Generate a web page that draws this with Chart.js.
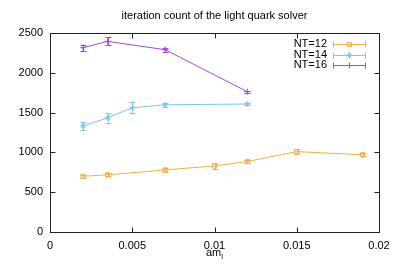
<!DOCTYPE html>
<html><head><meta charset="utf-8">
<script src="https://cdn.jsdelivr.net/npm/chart.js@4.4.0/dist/chart.umd.min.js"></script>
<style>html,body{margin:0;padding:0;background:#fff}#w{width:399px;height:279px}</style>
</head><body><div id="w"><canvas id="c" width="399" height="279"></canvas></div>
<script>
const chartTitle = "iteration count of the light quark solver";
const seriesNames = ["NT=12", "NT=14", "NT=16"];
const xTickLabels = ["0", "0.005", "0.01", "0.015", "0.02"];
const yTickLabels = ["0", "500", "1000", "1500", "2000", "2500"];

const am12 = [0.002, 0.0035, 0.007, 0.01, 0.012, 0.015, 0.019];
const nt12 = [700, 718, 780, 830, 885, 1010, 970];
const nt12Err = [22, 18, 20, 40, 20, 30, 20];

const am14 = [0.002, 0.0035, 0.005, 0.007, 0.012];
const nt14 = [1330, 1435, 1560, 1598, 1608];
const nt14Err = [50, 60, 70, 25, 15];

const am16 = [0.002, 0.0035, 0.007, 0.012];
const nt16 = [2315, 2395, 2290, 1762];
const nt16Err = [40, 50, 25, 10];

const colors = ["#EEB043", "#80C4EE", "#A848E0"];
const styles = ["rect", "star", "cross"];
const FONT = "Liberation Sans, Arial, sans-serif";

function pts(xs, ys, es) { return xs.map((x, i) => ({ x: x, y: ys[i], e: es[i] })); }

const datasets = [
  { label: seriesNames[0], data: pts(am12, nt12, nt12Err) },
  { label: seriesNames[1], data: pts(am14, nt14, nt14Err) },
  { label: seriesNames[2], data: pts(am16, nt16, nt16Err) }
].map((d, i) => Object.assign(d, {
  borderColor: colors[i], backgroundColor: "rgba(0,0,0,0)", borderWidth: 1,
  pointStyle: styles[i], pointRadius: 3, pointBorderWidth: 1,
  pointBorderColor: colors[i], pointBackgroundColor: "rgba(0,0,0,0)",
  showLine: true, tension: 0
}));

const gnuplotPlugin = {
  id: "gnu",
  afterDatasetsDraw(chart) {
    const ctx = chart.ctx, ca = chart.chartArea;
    const xs = chart.scales.x, ys = chart.scales.y;
    ctx.save();
    // error bars
    chart.data.datasets.forEach((ds, i) => {
      ctx.strokeStyle = colors[i]; ctx.lineWidth = 1;
      ds.data.forEach(p => {
        const px = Math.round(xs.getPixelForValue(p.x)) + 0.5;
        const y1 = ys.getPixelForValue(p.y - p.e), y2 = ys.getPixelForValue(p.y + p.e);
        ctx.beginPath();
        ctx.moveTo(px, y1); ctx.lineTo(px, y2);
        ctx.moveTo(px - 3, Math.round(y1) + 0.5); ctx.lineTo(px + 3, Math.round(y1) + 0.5);
        ctx.moveTo(px - 3, Math.round(y2) + 0.5); ctx.lineTo(px + 3, Math.round(y2) + 0.5);
        ctx.stroke();
      });
    });
    // frame
    ctx.strokeStyle = "#222"; ctx.lineWidth = 1;
    const L = Math.round(ca.left) + 0.5, R = Math.round(ca.right) + 0.5;
    const T = Math.round(ca.top) + 0.5, B = Math.round(ca.bottom) + 0.5;
    ctx.strokeRect(L, T, R - L, B - T);
    // inward ticks
    ctx.beginPath();
    xs.ticks.forEach(t => {
      const px = Math.round(xs.getPixelForValue(t.value)) + 0.5;
      ctx.moveTo(px, B); ctx.lineTo(px, B - 5);
      ctx.moveTo(px, T); ctx.lineTo(px, T + 5);
    });
    ys.ticks.forEach(t => {
      const py = Math.round(ys.getPixelForValue(t.value)) + 0.5;
      ctx.moveTo(L, py); ctx.lineTo(L + 5, py);
      ctx.moveTo(R, py); ctx.lineTo(R - 5, py);
    });
    ctx.stroke();
    // title
    ctx.fillStyle = "#000";
    ctx.font = "11px " + FONT;
    ctx.textAlign = "center"; ctx.textBaseline = "middle";
    ctx.fillText(chartTitle, (ca.left + ca.right) / 2, 16);
    // x axis title am_l
    const cx = (ca.left + ca.right) / 2;
    ctx.font = "11px " + FONT;
    const w1 = ctx.measureText("am").width;
    ctx.font = "8px " + FONT;
    const w2 = ctx.measureText("l").width;
    ctx.textAlign = "left"; ctx.textBaseline = "alphabetic";
    ctx.font = "11px " + FONT;
    ctx.fillText("am", cx - (w1 + w2) / 2, 256);
    ctx.font = "8px " + FONT;
    ctx.fillText("l", cx - (w1 + w2) / 2 + w1, 259);
    // legend
    ctx.font = "11px " + FONT;
    seriesNames.forEach((n, i) => {
      const y = 44 + i * 10.7;
      ctx.fillStyle = "#000"; ctx.textAlign = "right"; ctx.textBaseline = "middle";
      ctx.fillText(n, 327, y);
      const yy = Math.round(y) + 0.5;
      ctx.strokeStyle = colors[i]; ctx.lineWidth = 1;
      ctx.beginPath();
      ctx.moveTo(333, yy); ctx.lineTo(366, yy);
      ctx.moveTo(333.5, yy - 3); ctx.lineTo(333.5, yy + 3);
      ctx.moveTo(365.5, yy - 3); ctx.lineTo(365.5, yy + 3);
      ctx.stroke();
      ctx.fillStyle = "rgba(0,0,0,0)";
      ctx.strokeStyle = colors[i];
      Chart.helpers.drawPoint(ctx, { pointStyle: styles[i], radius: 3, borderWidth: 1 }, 349.5, yy);
    });
    ctx.restore();
  }
};

new Chart(document.getElementById("c"), {
  type: "scatter",
  data: { datasets: datasets },
  options: {
    responsive: false, animation: false, devicePixelRatio: 1,
    layout: { padding: { top: 33, right: 20, left: 0, bottom: 0 } },
    plugins: { legend: { display: false }, title: { display: false }, tooltip: { enabled: false } },
    scales: {
      x: {
        type: "linear", min: 0, max: 0.02,
        grid: { display: false, drawTicks: false }, border: { display: false },
        ticks: { stepSize: 0.005, padding: 7, color: "#000", font: { family: FONT, size: 11 },
          maxRotation: 0,
          callback: (v) => { const i = Math.round(v / 0.005); return xTickLabels[i]; } },
        afterFit: (s) => { s.height = 47; }
      },
      y: {
        type: "linear", min: 0, max: 2500,
        grid: { display: false, drawTicks: false }, border: { display: false },
        ticks: { stepSize: 500, padding: 7, color: "#000", font: { family: FONT, size: 11 },
          callback: (v) => yTickLabels[Math.round(v / 500)] },
        afterFit: (s) => { s.width = 50; }
      }
    }
  },
  plugins: [gnuplotPlugin]
});
</script></body></html>
